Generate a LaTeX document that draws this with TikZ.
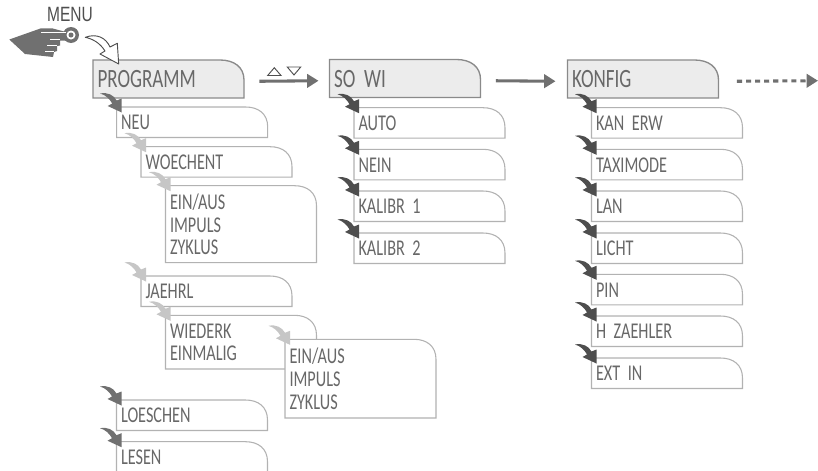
\documentclass[tikz,border=0pt]{standalone}
\usepackage{fontspec}
\usetikzlibrary{arrows.meta}
\newfontfamily\lcdfont[FakeStretch=0.72,WordSpace=0.3]{Carlito}
\newfontfamily\menufont[FakeStretch=0.75]{Liberation Sans}

\begin{document}
\begin{tikzpicture}[x=0.75pt,y=-0.75pt]
\definecolor{my_gray}{RGB}{112,112,112}
\definecolor{my_gray_dark}{RGB}{78,78,78}
\definecolor{my_gray_light}{RGB}{198,198,198}
\definecolor{my_gray_line}{RGB}{178,178,178}
\definecolor{my_gray_head}{RGB}{138,138,138}
\definecolor{my_gray_fill}{RGB}{236,236,236}
\definecolor{my_gray_text}{RGB}{104,104,104}

\tikzset{
  headline/.style={draw=my_gray_head,fill=my_gray_fill,line width=1pt},
  subline/.style={draw=my_gray_line,fill=white,line width=0.8pt},
  boxtext/.style={anchor=north west,inner xsep=3.2pt,inner ysep=0pt,text width=106.8pt,
                  align=left,text=my_gray_text},
  flowarrow/.style={my_gray,line width=2.3pt,-{Triangle[length=8.5pt,width=10pt]}},
}
\clip (0,0) rectangle (818,471);
\useasboundingbox (0,0) rectangle (818,471);

% hand on the key
\node[font=\menufont\fontsize{15.5pt}{16pt}\selectfont,text=my_gray_dark,inner sep=0pt] (menu) at (70,14) {MENU};
\fill[my_gray] (9.3,39.5) -- (41,28.3) -- (52,28.3) -- (66,32) -- (66,40.5) -- (60,40.5)
    -- (60,45.5) -- (57,46) -- (57,51) -- (54,52) -- (53,57) -- (25,54) -- cycle;
\fill[my_gray] (71,35) circle (8);
\fill[white] (71,35) circle (4.5);
\fill[my_gray] (71,35) circle (2.5);
\draw[white,line width=0.8pt] (41,32.8) -- (66,32.8);
\draw[white,line width=0.8pt] (50,39.5) -- (60,39.5);
\draw[white,line width=0.8pt] (47,45.5) -- (57,45.5);
\draw[white,line width=0.8pt] (45,51.8) -- (54,51.8);

% main menus
\foreach \boxname/\xx/\yy/\txt in {prog/93/60/PROGRAMM,sowi/329.5/59.5/SO WI,konfig/567.5/60/KONFIG} {
    \draw[headline] (\xx,\yy+38) -- (\xx,\yy) -- (\xx+127,\yy) .. controls (\xx+141,\yy) and (\xx+151,\yy+7) .. (\xx+151,\yy+20)
        -- (\xx+151,\yy+38) -- cycle;
    \node[boxtext,minimum height=28.5pt,font=\lcdfont\fontsize{19.8pt}{20pt}\selectfont] (\boxname) at (\xx,\yy) {\txt};
}

% sub menus
\foreach \boxname/\xx/\yy/\hh/\txt in {neu/116.7/107/30.5/NEU,woechent/141/146.7/30.5/WOECHENT,
    woeauswahl/165.5/185.7/77/{EIN/AUS\\IMPULS\\ZYKLUS},jaehrl/141/276/30.5/JAEHRL,
    wiederk/165.5/315.3/53.7/{WIEDERK\\EINMALIG},jaeauswahl/285/339.3/78.7/{EIN/AUS\\IMPULS\\ZYKLUS},
    loeschen/116.5/400/30.5/LOESCHEN,lesen/116.5/441.7/30.5/LESEN,
    auto/354/107.7/30.5/AUTO,nein/354/149.3/30.5/NEIN,kalibra/354/191/30.5/KALIBR 1,kalibrb/354/233/30.5/KALIBR 2,
    kanerw/591.5/107.7/30.5/KAN ERW,taximode/591.5/149.3/30.5/TAXIMODE,lan/591.5/191/30.5/LAN,licht/591.5/233/30.5/LICHT,
    pin/591.5/274.3/30.5/PIN,hzaehler/591.5/316/30.5/H ZAEHLER,extin/591.5/358/30.5/EXT IN} {
    \draw[subline] (\xx,\yy+\hh) -- (\xx,\yy) -- (\xx+129,\yy) .. controls (\xx+142,\yy) and (\xx+151,\yy+7) .. (\xx+151,\yy+20)
        -- (\xx+151,\yy+\hh) -- cycle;
    \node[boxtext,minimum height=\hh*0.75pt,font=\lcdfont\fontsize{16.9pt}{17pt}\selectfont] (\boxname) at (\xx,\yy) {\txt};
}

% bent arrows
\foreach \boxname/\col in {neu/my_gray,loeschen/my_gray,lesen/my_gray,
    woechent/my_gray_light,woeauswahl/my_gray_light,jaehrl/my_gray_light,wiederk/my_gray_light,jaeauswahl/my_gray_light,
    auto/my_gray_dark,nein/my_gray_dark,kalibra/my_gray_dark,kalibrb/my_gray_dark,
    kanerw/my_gray_dark,taximode/my_gray_dark,lan/my_gray_dark,licht/my_gray_dark,pin/my_gray_dark,hzaehler/my_gray_dark,extin/my_gray_dark} {
    \fill[\col,shift={(\boxname.north west)}] (-16.5,-13.5) .. controls (-9,-15) and (-3,-12) .. (0,-6.5)
        -- (5,-8.5) -- (5,5.5) -- (-9,-1) -- (-4.5,-3.5) .. controls (-7,-8) and (-11,-12) .. cycle;
}
\draw[my_gray_dark,fill=white,line width=0.7pt,line join=round] (85.3,37.3) .. controls (97,33) and (106,38) .. (110,47)
    -- (117.3,43.3) -- (118.7,64) -- (100,54) -- (105,51) .. controls (100,43) and (93,39) .. cycle;

% links between the menus
\coordinate (more) at (818,80.7);
\draw[flowarrow] ([shift={(15,2)}]prog.east) -- ([shift={(-11,2)}]sowi.west);
\draw[flowarrow] ([shift={(15,2)}]sowi.east) -- ([shift={(-12,2)}]konfig.west);
\draw[flowarrow,dash pattern=on 3.8pt off 3pt] ([shift={(18,2)}]konfig.east) -- (more);
\draw[my_gray_dark,line width=0.7pt] (267.7,75.5) -- (274.3,67.7) -- (281,75.5) -- cycle;
\draw[my_gray_dark,line width=0.7pt] (287.3,67) -- (300.7,67) -- (294,75) -- cycle;
\end{tikzpicture}
\end{document}
